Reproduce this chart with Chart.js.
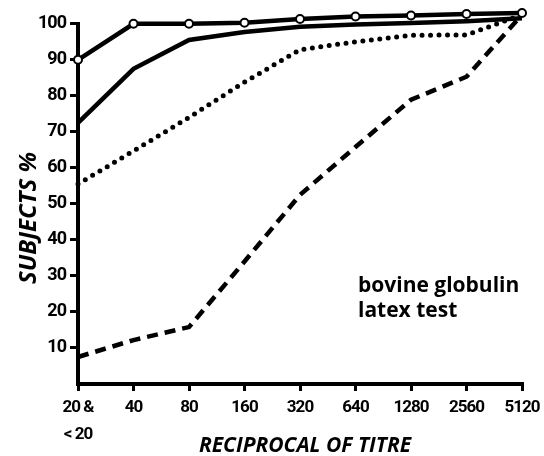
<!DOCTYPE html>
<html>
<head>
<meta charset="utf-8">
<script src="https://cdn.jsdelivr.net/npm/chart.js@4"></script>
<style>
  html, body { margin: 0; padding: 0; background: #fff; }
  #wrap { width: 544px; height: 456px; }
</style>
</head>
<body>
<div id="wrap"><canvas id="target" width="544" height="456"></canvas></div>
<script>
// x categories (reciprocal of titre)
var titres = [['20 &', '< 20'], '40', '80', '160', '320', '640', '1280', '2560', '5120'];
// y ticks
var yTicks = [10, 20, 30, 40, 50, 60, 70, 80, 90, 100];
var yAxisTop = 100.5;

// series values, % subjects
var openCircles = [90, 100, 100, 100.3, 101.3, 102, 102.3, 102.7, 103];
var solidLine = [72.5, 87.5, 95.5, 97.7, 99.2, 99.8, 100.2, 100.7, 101.5];
var dottedLine = [55.5, 64.7, 74, 83.8, 92.8, 95, 96.8, 96.9, 102.5];
var dashedLine = [7.5, 12.2, 15.8, 34, 52.5, 65.8, 78.9, 85.3, 102.5];

var noteLines = ['bovine globulin', 'latex test'];
var xTitle = 'RECIPROCAL OF TITRE';
var yTitle = 'SUBJECTS %';
var tickFont = 'Roboto';

// narrow tick digits, y axis line (stops at 100), titles and note
var textPlugin = {
  id: 'texts',
  beforeLayout: function (chart) { chart.ctx.letterSpacing = '-1px'; },
  beforeDraw: function (chart) { chart.ctx.letterSpacing = '-1px'; },
  beforeDatasetsDraw: function (chart) {
    var ctx = chart.ctx;
    var x = chart.scales.x.left;
    var y = chart.scales.y;
    ctx.save();
    ctx.strokeStyle = '#000';
    ctx.lineWidth = 4;
    ctx.beginPath();
    ctx.moveTo(x, y.getPixelForValue(0) + 2);
    ctx.lineTo(x, y.getPixelForValue(yAxisTop));
    ctx.stroke();
    ctx.restore();
  },
  afterDraw: function (chart) {
    var ctx = chart.ctx;
    var xs = chart.scales.x;
    ctx.letterSpacing = '0px';

    // x title
    ctx.save();
    ctx.fillStyle = '#000';
    ctx.font = 'italic bold 21px "Open Sans"';
    ctx.textAlign = 'center';
    ctx.textBaseline = 'middle';
    ctx.fillText(xTitle, (xs.left + xs.right) / 2 + 5, 446);
    ctx.restore();

    // y title
    ctx.save();
    ctx.fillStyle = '#000';
    ctx.translate(29, 218);
    ctx.rotate(-Math.PI / 2);
    ctx.font = 'italic bold 24px "Open Sans"';
    ctx.textAlign = 'center';
    ctx.textBaseline = 'middle';
    ctx.fillText(yTitle, 0, 0);
    ctx.restore();

    ctx.save();
    ctx.fillStyle = '#000';
    ctx.font = 'bold 21px "Open Sans"';
    ctx.textAlign = 'left';
    ctx.textBaseline = 'alphabetic';
    ctx.fillText(noteLines[0], 358, 292);
    ctx.fillText(noteLines[1], 358, 317);
    ctx.restore();
  }
};

var ctx = document.getElementById('target').getContext('2d');

new Chart(ctx, {
  type: 'line',
  data: {
    labels: titres,
    datasets: [{
      data: openCircles,
      borderColor: '#000',
      borderWidth: 4.5,
      pointRadius: 4,
      pointBorderWidth: 2,
      pointBackgroundColor: '#fff',
      pointBorderColor: '#000',
      clip: false
    }, {
      data: solidLine,
      borderColor: '#000',
      borderWidth: 4.5,
      pointRadius: 0,
      clip: false
    }, {
      data: dottedLine,
      borderColor: '#000',
      borderWidth: 5,
      borderDash: [0, 8.5],
      borderCapStyle: 'round',
      pointRadius: 0,
      clip: false
    }, {
      data: dashedLine,
      borderColor: '#000',
      borderWidth: 4.5,
      borderDash: [11, 7],
      pointRadius: 0,
      clip: false
    }]
  },
  options: {
    responsive: false,
    animation: false,
    layout: { padding: { top: 9, right: 22, left: 0, bottom: 0 } },
    plugins: { legend: { display: false }, tooltip: { enabled: false } },
    scales: {
      x: {
        offset: false,
        grid: { drawOnChartArea: false, drawTicks: true, tickLength: 7, color: '#000', lineWidth: 3 },
        border: { display: true, color: '#000', width: 4 },
        ticks: {
          color: '#000',
          padding: 4,
          maxRotation: 0,
          autoSkip: false,
          font: { family: tickFont, weight: 'bold', size: 17, lineHeight: 1.55 }
        },
        afterFit: function (scale) { scale.height = 72; }
      },
      y: {
        min: 0,
        max: 104.1,
        afterBuildTicks: function (scale) {
          scale.ticks = yTicks.map(function (v) { return { value: v }; });
        },
        grid: { drawOnChartArea: false, drawTicks: true, tickLength: 8, color: '#000', lineWidth: 3 },
        border: { display: false },
        ticks: {
          color: '#000',
          padding: 4,
          font: { family: tickFont, weight: 'bold', size: 18 }
        },
        afterFit: function (scale) {
          scale.width = 78;
          scale.paddingTop = 0;
          scale.paddingBottom = 0;
        }
      }
    }
  },
  plugins: [textPlugin]
});
</script>
</body>
</html>
